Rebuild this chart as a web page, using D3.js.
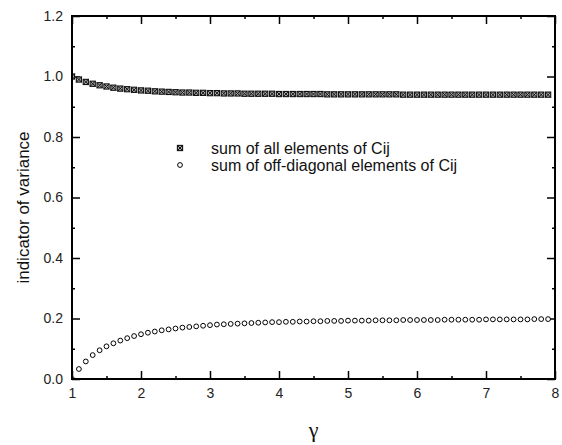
<!DOCTYPE html>
<html><head><meta charset="utf-8">
<script src="https://cdn.jsdelivr.net/npm/d3@7/dist/d3.min.js"></script>
<style>body{margin:0;background:#fff}svg{display:block}</style>
</head><body>
<script>
const gammaValues = [1.0,1.1,1.2,1.3,1.4,1.5,1.6,1.7,1.8,1.9,2.0,2.1,2.2,2.3,2.4,2.5,2.6,2.7,2.8,2.9,3.0,3.1,3.2,3.3,3.4,3.5,3.6,3.7,3.8,3.9,4.0,4.1,4.2,4.3,4.4,4.5,4.6,4.7,4.8,4.9,5.0,5.1,5.2,5.3,5.4,5.5,5.6,5.7,5.8,5.9,6.0,6.1,6.2,6.3,6.4,6.5,6.6,6.7,6.8,6.9,7.0,7.1,7.2,7.3,7.4,7.5,7.6,7.7,7.8,7.9];
const sumAll = [1.000,0.990,0.982,0.976,0.971,0.967,0.963,0.960,0.958,0.956,0.954,0.953,0.951,0.950,0.949,0.948,0.947,0.947,0.946,0.946,0.945,0.945,0.944,0.944,0.944,0.943,0.943,0.943,0.943,0.943,0.942,0.942,0.942,0.942,0.942,0.942,0.942,0.941,0.941,0.941,0.941,0.941,0.941,0.941,0.941,0.941,0.941,0.941,0.940,0.940,0.940,0.940,0.940,0.940,0.940,0.940,0.940,0.940,0.940,0.940,0.940,0.940,0.940,0.940,0.940,0.940,0.940,0.940,0.940,0.940];
const sumOffDiag = [0.000,0.033,0.058,0.079,0.095,0.108,0.118,0.127,0.135,0.142,0.148,0.153,0.157,0.161,0.164,0.167,0.170,0.172,0.174,0.176,0.178,0.180,0.181,0.182,0.183,0.184,0.185,0.186,0.187,0.188,0.188,0.189,0.189,0.190,0.190,0.191,0.191,0.192,0.192,0.192,0.193,0.193,0.193,0.193,0.194,0.194,0.194,0.194,0.195,0.195,0.195,0.195,0.195,0.195,0.196,0.196,0.196,0.196,0.196,0.196,0.197,0.197,0.197,0.197,0.197,0.197,0.197,0.198,0.198,0.198];
const xTicks = [1,2,3,4,5,6,7,8];
const yTicks = [0.0,0.2,0.4,0.6,0.8,1.0,1.2];
const legendLabels = ["sum of all elements of Cij","sum of off-diagonal elements of Cij"];

const W = 562, H = 445;
const m = {left:72, right:7, top:16, bottom:66};
const svg = d3.select("body").append("svg").attr("width",W).attr("height",H);
const x = d3.scaleLinear().domain([1,8]).range([m.left, W-m.right]);
const y = d3.scaleLinear().domain([0,1.2]).range([H-m.bottom, m.top]);
const font = "Arial, 'Liberation Sans', sans-serif";

const xMinor = d3.range(1.5,8,1);
const yMinor = d3.range(0.1,1.2,0.2);

function axisStyle(g){
  g.select(".domain").remove();
  g.selectAll("line").attr("stroke","#000").attr("stroke-width",1.5);
  g.selectAll("text").attr("font-family",font).attr("font-size",14).attr("fill","#222");
}
svg.append("g").attr("transform",`translate(0,${y(0)})`)
  .call(d3.axisBottom(x).tickValues(xTicks).tickFormat(d3.format("d")).tickSizeInner(-8).tickSizeOuter(0).tickPadding(9))
  .call(axisStyle);
svg.append("g").attr("transform",`translate(0,${y(0)})`)
  .call(d3.axisBottom(x).tickValues(xMinor).tickFormat("").tickSizeInner(-3).tickSizeOuter(0)).call(axisStyle);
svg.append("g").attr("transform",`translate(0,${y(1.2)})`)
  .call(d3.axisTop(x).tickValues(xTicks).tickFormat("").tickSizeInner(-8).tickSizeOuter(0)).call(axisStyle);
svg.append("g").attr("transform",`translate(0,${y(1.2)})`)
  .call(d3.axisTop(x).tickValues(xMinor).tickFormat("").tickSizeInner(-3).tickSizeOuter(0)).call(axisStyle);
svg.append("g").attr("transform",`translate(${x(1)},0)`)
  .call(d3.axisLeft(y).tickValues(yTicks).tickFormat(d3.format(".1f")).tickSizeInner(-8).tickSizeOuter(0).tickPadding(9))
  .call(axisStyle);
svg.append("g").attr("transform",`translate(${x(1)},0)`)
  .call(d3.axisLeft(y).tickValues(yMinor).tickFormat("").tickSizeInner(-3).tickSizeOuter(0)).call(axisStyle);
svg.append("g").attr("transform",`translate(${x(8)},0)`)
  .call(d3.axisRight(y).tickValues(yTicks).tickFormat("").tickSizeInner(-8).tickSizeOuter(0)).call(axisStyle);
svg.append("g").attr("transform",`translate(${x(8)},0)`)
  .call(d3.axisRight(y).tickValues(yMinor).tickFormat("").tickSizeInner(-3).tickSizeOuter(0)).call(axisStyle);

svg.append("clipPath").attr("id","plotclip").append("rect")
  .attr("x",x(1)).attr("y",y(1.2)).attr("width",x(8)-x(1)).attr("height",y(0)-y(1.2));

function squareX(g, cx, cy){
  const s = 2.6;
  g.append("rect").attr("x",cx-s).attr("y",cy-s).attr("width",2*s).attr("height",2*s)
    .attr("fill","#aaa").attr("stroke","#111").attr("stroke-width",1.1);
  g.append("path").attr("d",`M${cx-s},${cy-s}L${cx+s},${cy+s}M${cx+s},${cy-s}L${cx-s},${cy+s}`)
    .attr("stroke","#111").attr("stroke-width",1);
}
function circ(g, cx, cy){
  g.append("circle").attr("cx",cx).attr("cy",cy).attr("r",2.4)
    .attr("fill","#fff").attr("stroke","#000").attr("stroke-width",1);
}
const gAll = svg.append("g").attr("clip-path","url(#plotclip)");
gammaValues.forEach((gv,i)=>squareX(gAll, x(gv), y(sumAll[i])));
const gOff = svg.append("g").attr("clip-path","url(#plotclip)");
gammaValues.forEach((gv,i)=>circ(gOff, x(gv), y(sumOffDiag[i])));

// frame
svg.append("rect").attr("x",x(1)).attr("y",y(1.2)).attr("width",x(8)-x(1)).attr("height",y(0)-y(1.2))
  .attr("fill","none").attr("stroke","#000").attr("stroke-width",2);

// legend
const lg = svg.append("g");
squareX(lg, 180, 148);
circ(lg, 180, 165);
lg.append("text").attr("x",211).attr("y",153.5).text(legendLabels[0])
  .attr("font-family",font).attr("font-size",16).attr("fill","#111");
lg.append("text").attr("x",211).attr("y",170.5).text(legendLabels[1])
  .attr("font-family",font).attr("font-size",16).attr("fill","#111");

// axis titles
svg.append("text").attr("transform",`translate(29,${(y(0)+y(1.2))/2 + 10}) rotate(-90)`)
  .attr("text-anchor","middle").attr("font-family",font).attr("font-size",17).attr("fill","#111")
  .text("indicator of variance");
svg.append("text").attr("x",(x(1)+x(8))/2).attr("y",437).attr("text-anchor","middle")
  .attr("font-family","'Liberation Serif','DejaVu Serif',serif").attr("font-size",22).attr("fill","#111")
  .text("γ");
</script>
</body></html>
